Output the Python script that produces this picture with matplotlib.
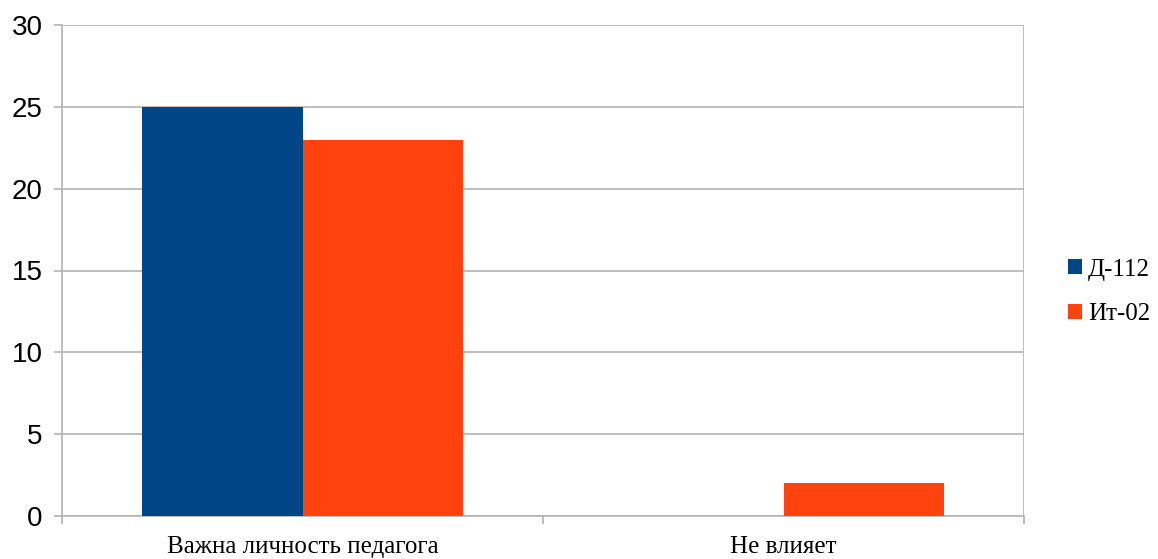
import matplotlib
matplotlib.use("Agg")
import matplotlib.pyplot as plt
import numpy as np

categories = ["Важна личность педагога", "Не влияет"]
series_names = ["Д-112", "Ит-02"]
d112 = [25, 0]
it02 = [23, 2]
colors = ["#004586", "#ff420e"]

fig = plt.figure(figsize=(11.58, 5.59), dpi=100)
ax = fig.add_axes([62/1158, 43/559, 962/1158, 491/559])

x = np.arange(len(categories))
w = 1/3
ax.bar(x - w/2, d112, width=w, color=colors[0], label=series_names[0], zorder=3)
ax.bar(x + w/2, it02, width=w, color=colors[1], label=series_names[1], zorder=3)

ax.set_xlim(-0.5, len(categories) - 0.5)
ax.set_ylim(0, 30)
ax.set_yticks(range(0, 31, 5))
ax.yaxis.grid(True, color="#b3b3b3", linewidth=1.2, zorder=0)
ax.set_axisbelow(True)

ax.set_xticks(x)
ax.set_xticklabels(categories, fontfamily="Liberation Serif", fontsize=18)
ax.set_xticks(np.arange(-0.5, len(categories), 1.0), minor=True)
ax.tick_params(axis="x", which="major", length=0, pad=14.5)
ax.tick_params(axis="x", which="minor", length=6, color="#b3b3b3", width=1.2)
ax.tick_params(axis="y", length=6, color="#b3b3b3", width=1.2, labelsize=20, pad=8)
for lbl in ax.get_yticklabels():
    lbl.set_fontfamily("Liberation Sans")

for s in ["top", "right"]:
    ax.spines[s].set_visible(False)
for s in ["left", "bottom"]:
    ax.spines[s].set_color("#b3b3b3")
    ax.spines[s].set_linewidth(1.2)
ax.plot([1, 1], [0, 1], transform=ax.transAxes, color="#b3b3b3", lw=1.2, zorder=1)

leg = fig.legend(loc="center left", bbox_to_anchor=(1068/1158, 0.478), frameon=False,
                 prop={"family": "Liberation Serif", "size": 18},
                 handlelength=0.55, handleheight=0.55, handletextpad=0.25, labelspacing=0.9,
                 borderpad=0, borderaxespad=0)

fig.savefig("out.png", dpi=100)
